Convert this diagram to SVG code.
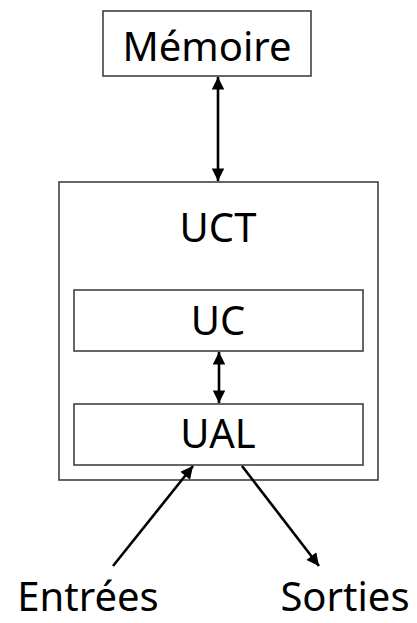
<svg xmlns="http://www.w3.org/2000/svg" width="417" height="623" viewBox="0 0 417 623">
  <style>
    .box { fill: #fff; stroke: #404040; stroke-width: 1.6; }
    .label { font-family: "Noto Sans", "Open Sans", sans-serif; font-size: 40px; fill: #000; text-anchor: middle; }
    .wire { stroke: #000; stroke-width: 2.6; fill: none; }
  </style>
  <defs>
    <marker id="head" viewBox="0 0 10 10" refX="10" refY="5" markerWidth="6" markerHeight="4.8" markerUnits="strokeWidth" orient="auto-start-reverse">
      <path d="M0,0 L10,5 L0,10 Z" fill="#000"/>
    </marker>
  </defs>
  <rect width="417" height="623" fill="#fff"/>

  <g id="memoire">
    <rect class="box" x="103" y="11" width="208" height="65"/>
    <text class="label" x="207" y="61">Mémoire</text>
  </g>

  <g id="uct">
    <rect class="box" x="59" y="182" width="319" height="298"/>
    <text class="label" x="218" y="242">UCT</text>
  </g>

  <g id="uc">
    <rect class="box" x="74" y="290" width="289" height="61"/>
    <text class="label" x="218" y="335">UC</text>
  </g>

  <g id="ual">
    <rect class="box" x="74" y="404" width="289" height="61"/>
    <text class="label" x="218" y="448">UAL</text>
  </g>

  <g id="entrees">
    <text class="label" x="88" y="611">Entrées</text>
  </g>

  <g id="sorties">
    <text class="label" x="345" y="611">Sorties</text>
  </g>

  <g id="connectors">
    <line class="wire" x1="218" y1="77" x2="218" y2="181" marker-start="url(#head)" marker-end="url(#head)"/>
    <line class="wire" x1="219" y1="352" x2="219" y2="403" marker-start="url(#head)" marker-end="url(#head)"/>
    <line class="wire" x1="113" y1="566" x2="193" y2="466" marker-end="url(#head)"/>
    <line class="wire" x1="242" y1="466" x2="319" y2="566" marker-end="url(#head)"/>
  </g>
</svg>
